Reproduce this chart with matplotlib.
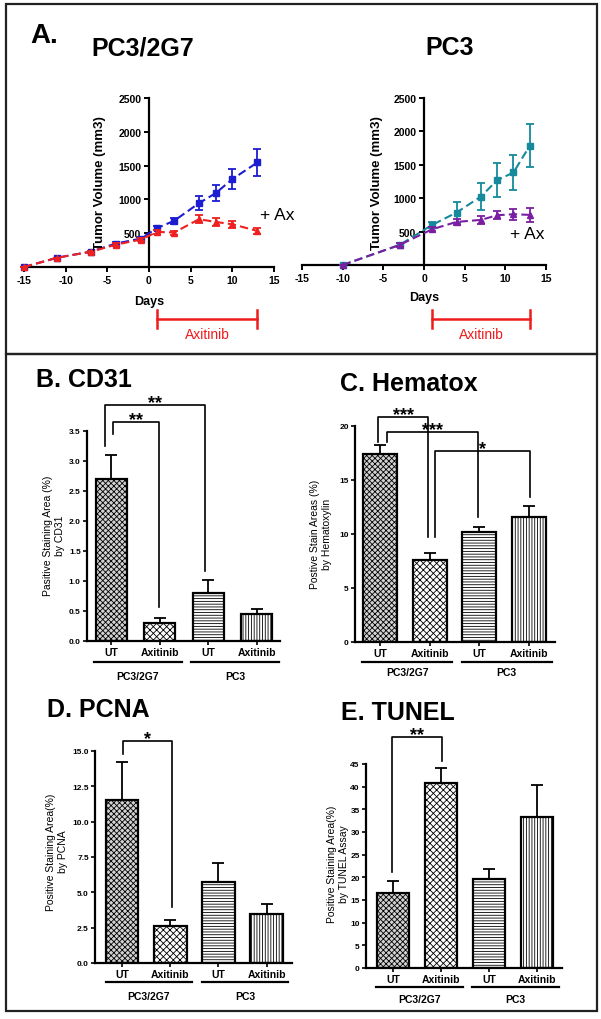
import matplotlib
matplotlib.use("Agg")
import matplotlib.pyplot as plt
from matplotlib.patches import Rectangle

plt.rcParams['font.family'] = ['Liberation Sans', 'DejaVu Sans']
plt.rcParams['hatch.linewidth'] = 0.6
plt.rcParams['axes.unicode_minus'] = False

W, H = 601, 1020

# ---- panel A: tumour growth curves ----
days_2g7 = [-15, -11, -7, -4, -1, 1, 3, 6, 8, 10, 13]
ut_2g7 = [0, 138, 227, 346, 420, 578, 682, 944, 1092, 1300, 1546]
ut_2g7_err = [0, 0, 15, 20, 20, 35, 45, 100, 120, 150, 200]
ax_2g7 = [0, 138, 225, 330, 405, 520, 509, 707, 667, 632, 534]
ax_2g7_err = [0, 0, 15, 20, 20, 30, 30, 60, 55, 55, 45]

days_pc3 = [-10, -3, 1, 4, 7, 9, 11, 13]
ut_pc3 = [0, 300, 600, 785, 1025, 1270, 1385, 1785]
ut_pc3_err = [0, 30, 40, 160, 205, 255, 265, 325]
ax_pc3 = [0, 300, 535, 645, 675, 745, 760, 750]
ax_pc3_err = [0, 30, 30, 50, 60, 60, 80, 100]

treat_start, treat_end = 1, 13

# ---- panels B-E: staining bars ----
groups = ['UT', 'Axitinib', 'UT', 'Axitinib']
cell_lines = ['PC3/2G7', 'PC3']

cd31 = [2.7, 0.3, 0.8, 0.45]
cd31_err = [0.4, 0.08, 0.21, 0.08]
hemat = [17.4, 7.6, 10.2, 11.6]
hemat_err = [0.8, 0.6, 0.45, 0.95]
pcna = [11.55, 2.65, 5.75, 3.5]
pcna_err = [2.65, 0.4, 1.35, 0.65]
tunel = [16.5, 40.9, 19.7, 33.4]
tunel_err = [2.7, 3.3, 2.1, 6.9]

# significance brackets: (x1, x2, top, left end, right end, label)
cd31_sig = [(-0.12, 1.94, 3.93, 3.25, 1.17, '**'), (0.04, 0.99, 3.65, 3.45, 0.57, '**')]
hemat_sig = [(-0.04, 0.97, 20.8, 18.5, 9.7, '***'), (0.14, 1.97, 19.4, 18.5, 11.6, '***'),
             (1.1, 3.02, 17.7, 9.7, 13.4, '*')]
pcna_sig = [(0.01, 1.03, 15.7, 14.8, 3.96, '*')]
tunel_sig = [(-0.02, 1.02, 51, 21.2, 45.7, '**')]

fig = plt.figure(figsize=(W / 100, H / 100), dpi=100)


def px_axes(box):
    l, t, r, b = box
    return fig.add_axes([l / W, 1 - b / H, (r - l) / W, (b - t) / H])


def ftext(x, y, s, **kw):
    return fig.text(x / W, 1 - y / H, s, **kw)


def yfrac(box, ypx):
    return (box[3] - ypx) / (box[3] - box[1])


# outer frames
for (l, t, r, b) in [(6, 5, 597, 355), (6, 355, 597, 1012)]:
    fig.patches.append(Rectangle((l / W, 1 - b / H), (r - l) / W, (b - t) / H,
                                 transform=fig.transFigure, fill=False,
                                 lw=1.6, ec='#222222'))


def growth(box, days, ut, ut_err, tr, tr_err, c_ut, c_tr, title, tx, ax_lbl, ylab_x, days_y, bracket_y):
    ax = px_axes(box)
    ax.errorbar(days, ut, yerr=ut_err, color=c_ut, marker='s', ms=5, ls=(0, (4, 2)),
                lw=1.5, capsize=3, elinewidth=1.3, capthick=1.3, clip_on=False, zorder=3)
    ax.errorbar(days, tr, yerr=tr_err, color=c_tr, marker='^', ms=5, ls=(0, (4, 2)),
                lw=1.5, capsize=3, elinewidth=1.3, capthick=1.3, clip_on=False, zorder=4)
    ax.set_xlim(-15, 15)
    ax.set_ylim(0, 2500)
    ax.spines['left'].set_position(('data', 0))
    for s in ['top', 'right']:
        ax.spines[s].set_visible(False)
    for s in ['left', 'bottom']:
        ax.spines[s].set_linewidth(1.6)
    ax.set_xticks(range(-15, 16, 5))
    ax.set_yticks([500, 1000, 1500, 2000, 2500])
    ax.tick_params(width=1.4, length=3.5, labelsize=7.5, pad=2)
    for lab in ax.get_xticklabels() + ax.get_yticklabels():
        lab.set_fontweight('bold')
    ax.patch.set_alpha(0)
    # treatment bar
    yb = yfrac(box, bracket_y)
    tr_ = ax.get_xaxis_transform()
    ax.plot([treat_start, treat_end], [yb, yb], color='#ee1c1c', lw=1.8, transform=tr_, clip_on=False)
    for xx in (treat_start, treat_end):
        ax.plot([xx, xx], [yb - 0.055, yb + 0.055], color='#ee1c1c', lw=1.8, transform=tr_, clip_on=False)
    ax.text((treat_start + treat_end) / 2, yb - 0.045, 'Axitinib', color='#ee1c1c', fontsize=10,
            ha='center', va='top', transform=tr_)
    ax.text(0, yfrac(box, days_y), 'Days', fontsize=9, fontweight='bold', ha='center',
            va='center', transform=tr_)
    ftext(tx, 48, title, fontsize=18, fontweight='bold', ha='center', va='center')
    ftext(ylab_x, 183, 'Tumor Volume (mm3)', fontsize=9.5, fontweight='bold', rotation=90,
          ha='center', va='center')
    ftext(ax_lbl[0], ax_lbl[1], '+ Ax', fontsize=12.5, ha='center', va='center')
    return ax


growth((24, 99, 274, 268), days_2g7, ut_2g7, ut_2g7_err, ax_2g7, ax_2g7_err,
       '#1c1cd0', '#ee2020', 'PC3/2G7', 143, (277, 215), 100, 302, 320)
growth((302, 99, 546, 266), days_pc3, ut_pc3, ut_pc3_err, ax_pc3, ax_pc3_err,
       '#168a9c', '#7b1fa2', 'PC3', 450, (527, 235), 377, 298, 320)
ftext(44, 36, 'A.', fontsize=20, fontweight='bold', ha='center', va='center')

styles = [dict(fc='#d2d2d2', hatch='xxxxxx'), dict(fc='white', hatch='xxxxx'),
          dict(fc='white', hatch='------'), dict(fc='white', hatch='||||||')]


def bars(box, vals, errs, ylim, yticks, fmt, xlim, width, sigs, title, title_xy,
         ylab, ylab_xy, line_y, lab_y):
    ax = px_axes(box)
    xs = list(range(len(vals)))
    bc = ax.bar(xs, vals, width=width, edgecolor='black', lw=1.6, zorder=2)
    for p, st in zip(bc.patches, styles):
        p.set_facecolor(st['fc'])
        p.set_hatch(st['hatch'])
    ax.errorbar(xs, vals, yerr=[[0] * len(vals), errs], fmt='none', ecolor='black',
                elinewidth=1.3, capsize=4, capthick=1.3, zorder=1)
    ax.set_xlim(*xlim)
    ax.set_ylim(*ylim)
    ax.set_yticks(yticks)
    ax.set_yticklabels([fmt.format(v) for v in yticks])
    ax.set_xticks(xs)
    ax.set_xticklabels(groups)
    for s in ['top', 'right']:
        ax.spines[s].set_visible(False)
    for s in ['left', 'bottom']:
        ax.spines[s].set_linewidth(1.6)
    ax.tick_params(axis='y', width=1.2, length=3, labelsize=6, pad=1.5)
    ax.tick_params(axis='x', width=1.2, length=3, labelsize=7.5, pad=1.5)
    for lab in ax.get_xticklabels() + ax.get_yticklabels():
        lab.set_fontweight('bold')
    ax.patch.set_alpha(0)
    # significance brackets
    for x1, x2, top, e1, e2, lab in sigs:
        ax.plot([x1, x1, x2, x2], [e1, top, top, e2], color='black', lw=1.2, clip_on=False)
        ax.annotate(lab, ((x1 + x2) / 2, top), xytext=(0, -1.5), textcoords='offset points',
                    fontsize=13, fontweight='bold', ha='center', va='baseline',
                    annotation_clip=False)
    # cell-line group lines
    tr_ = ax.get_xaxis_transform()
    yl = yfrac(box, line_y)
    for (a, b), name in zip([(-0.35, 1.45), (1.65, 3.45)], cell_lines):
        ax.plot([a, b], [yl, yl], color='black', lw=1.6, transform=tr_, clip_on=False)
        ax.text((a + b) / 2, yfrac(box, lab_y), name, fontsize=7.5, fontweight='bold',
                ha='center', va='center', transform=tr_)
    ftext(title_xy[0], title_xy[1], title, fontsize=18, fontweight='bold', ha='left', va='center')
    ftext(ylab_xy[0], ylab_xy[1], ylab, fontsize=7.5, rotation=90, ha='center', va='center',
          multialignment='center')
    return ax


bars((87, 432, 280, 642), cd31, cd31_err, (0, 3.5), [0, 0.5, 1, 1.5, 2, 2.5, 3, 3.5], '{:.1f}',
     (-0.5, 3.48), 0.63, cd31_sig, 'B. CD31', (36, 380),
     'Pasitive Staining Area (%)\nby CD31', (54, 536), 663, 677)
bars((355, 427, 555, 643), hemat, hemat_err, (0, 20), [0, 5, 10, 15, 20], '{:.0f}',
     (-0.5, 3.52), 0.68, hemat_sig, 'C. Hematox', (340, 384),
     'Postive Stain Areas (%)\nby Hematoxylin', (321, 534), 663, 673)
bars((95, 752, 292, 964), pcna, pcna_err, (0, 15), [0, 2.5, 5, 7.5, 10, 12.5, 15], '{:.1f}',
     (-0.57, 3.53), 0.67, pcna_sig, 'D. PCNA', (47, 710),
     'Positive Staining Area(%)\nby PCNA', (57, 852), 983, 997)
bars((366, 765, 562, 969), tunel, tunel_err, (0, 45), list(range(0, 46, 5)), '{:.0f}',
     (-0.56, 3.52), 0.67, tunel_sig, 'E. TUNEL', (341, 713),
     'Positive Staining Area(%)\nby TUNEL Assay', (338, 864), 988, 1000)

fig.savefig('out.png', dpi=100)
